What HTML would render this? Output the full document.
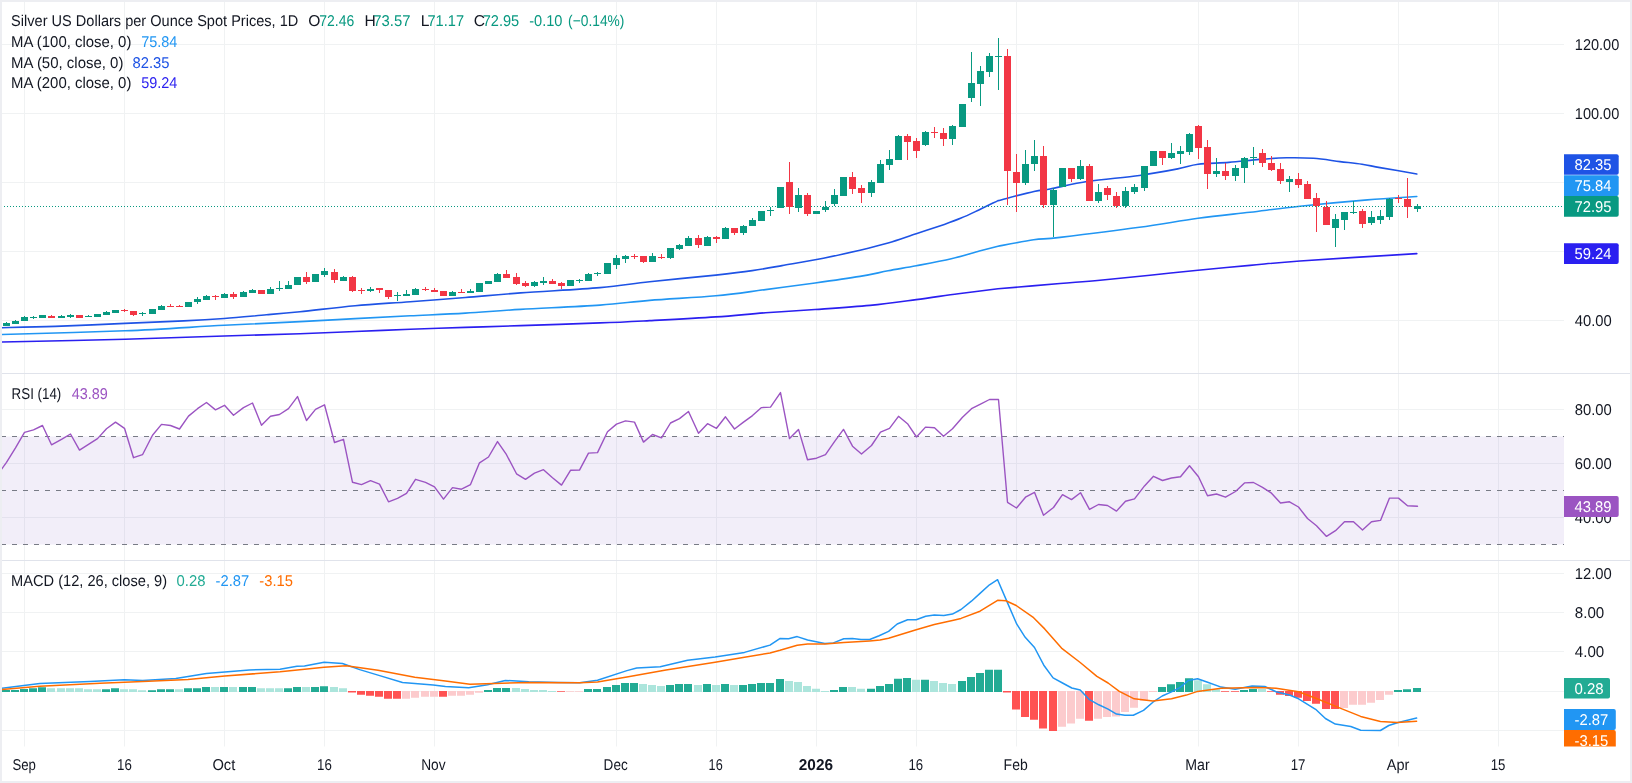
<!DOCTYPE html><html><head><meta charset="utf-8"><style>html,body{margin:0;padding:0;background:#fff;}svg{display:block;will-change:transform}text{font-family:"Liberation Sans",sans-serif;text-rendering:geometricPrecision}</style></head><body>
<svg width="1632" height="783" viewBox="0 0 1632 783">
<defs>
<clipPath id="cp"><rect x="2" y="2" width="1562" height="371.5"/></clipPath>
<clipPath id="cr"><rect x="2" y="374" width="1562" height="186"/></clipPath>
<clipPath id="cm"><rect x="2" y="561" width="1562" height="185.5"/></clipPath>
<clipPath id="cml"><rect x="1560" y="561" width="70" height="185.5"/></clipPath>
</defs>
<rect x="0" y="0" width="1632" height="783" fill="#edeef2"/>
<rect x="2" y="2" width="1628" height="779" fill="#ffffff"/>
<path d="M24.5 2V746.5 M124.5 2V746.5 M224.5 2V746.5 M324.5 2V746.5 M434.5 2V746.5 M616.5 2V746.5 M716.5 2V746.5 M816.5 2V746.5 M916.5 2V746.5 M1016.5 2V746.5 M1198.5 2V746.5 M1298.5 2V746.5 M1398.5 2V746.5 M1498.5 2V746.5 M2 44.5H1564 M2 113.5H1564 M2 182.5H1564 M2 251.5H1564 M2 320.5H1564 M2 409.5H1564 M2 463.5H1564 M2 517.5H1564 M2 573.5H1564 M2 612.5H1564 M2 651.5H1564 M2 691.5H1564 M2 730.5H1564" stroke="#f0f2f3" stroke-width="1" fill="none"/>
<path d="M2 373.5H1630M2 560.5H1630" stroke="#e0e3eb" stroke-width="1"/>
<g clip-path="url(#cp)">
<path d="M1.8 342.0 C22.3 341.6 87.9 340.3 125.0 339.3 C162.1 338.3 195.1 336.9 224.3 336.0 C253.5 335.1 278.2 334.4 300.0 333.7 C321.8 332.9 336.7 332.2 355.1 331.5 C373.5 330.8 391.9 330.0 410.3 329.3 C428.7 328.6 447.0 328.0 465.4 327.4 C483.8 326.8 498.2 326.4 520.6 325.6 C543.0 324.9 578.5 323.7 600.0 322.9 C621.5 322.1 630.3 321.6 649.6 320.6 C668.9 319.6 696.5 318.2 715.8 316.9 C735.1 315.6 749.0 314.0 765.5 312.8 C782.0 311.6 797.7 310.7 815.1 309.5 C832.5 308.3 853.1 307.0 870.0 305.4 C886.9 303.8 901.5 301.6 916.2 299.6 C930.9 297.7 944.7 295.5 958.3 293.7 C971.9 291.9 991.4 289.6 998.0 288.8 C1008.3 287.9 1043.0 284.9 1060.0 283.5 C1077.0 282.1 1085.0 281.6 1100.0 280.2 C1115.0 278.8 1133.7 276.9 1150.0 275.2 C1166.3 273.5 1181.3 271.8 1198.0 270.2 C1214.7 268.6 1233.0 266.9 1250.0 265.4 C1267.0 263.9 1272.2 263.0 1300.0 261.0 C1327.8 259.0 1397.3 254.8 1416.8 253.6" stroke="#2a1ff0" stroke-width="1.6" fill="none" stroke-linecap="round" stroke-linejoin="round"/>
<path d="M1.8 334.5 C22.3 333.9 87.9 332.3 125.0 330.8 C162.1 329.3 195.1 326.8 224.3 325.3 C253.5 323.8 278.2 322.7 300.0 321.6 C321.8 320.5 336.7 319.6 355.1 318.6 C373.5 317.6 391.9 316.7 410.3 315.8 C428.7 314.9 447.0 314.2 465.4 313.1 C483.8 312.0 498.2 310.7 520.6 309.4 C543.0 308.1 578.5 306.6 600.0 305.1 C621.5 303.6 630.3 301.9 649.6 300.4 C668.9 298.8 696.5 297.6 715.8 295.8 C735.1 294.0 749.0 291.7 765.5 289.6 C782.0 287.5 799.4 285.2 815.1 283.0 C830.9 280.8 847.8 278.4 860.0 276.4 C872.2 274.4 878.7 272.6 888.1 270.8 C897.5 269.0 905.7 267.8 916.2 265.8 C926.7 263.8 940.8 261.2 951.3 258.8 C961.8 256.4 971.6 253.2 979.4 251.1 C987.2 249.0 994.9 247.0 998.0 246.2 C1003.9 245.1 1023.3 241.3 1033.6 239.8 C1043.9 238.3 1042.4 239.5 1060.0 237.4 C1077.6 235.3 1116.4 230.5 1139.4 227.3 C1162.4 224.1 1179.7 220.8 1198.1 218.3 C1216.5 215.8 1233.0 214.2 1250.0 212.2 C1267.0 210.2 1280.4 208.4 1300.0 206.3 C1319.6 204.2 1348.0 201.5 1367.5 199.9 C1387.0 198.3 1408.6 197.1 1416.8 196.5" stroke="#2196F3" stroke-width="1.6" fill="none" stroke-linecap="round" stroke-linejoin="round"/>
<path d="M1.8 327.7 C10.7 327.5 34.6 327.1 55.1 326.4 C75.6 325.7 103.5 324.3 125.0 323.4 C146.4 322.5 167.2 321.7 183.8 320.9 C200.4 320.1 210.5 319.5 224.3 318.5 C238.1 317.5 253.9 315.9 266.5 314.8 C279.1 313.7 285.2 313.2 300.0 311.7 C314.8 310.2 336.7 307.4 355.1 305.7 C373.5 304.0 391.9 303.1 410.3 301.7 C428.7 300.3 447.0 299.0 465.4 297.5 C483.8 296.0 498.2 294.5 520.6 292.9 C543.0 291.2 578.5 289.5 600.0 287.6 C621.5 285.7 630.3 283.8 649.6 281.7 C668.9 279.6 698.7 277.0 715.8 275.1 C732.9 273.2 741.2 272.2 752.2 270.6 C763.2 269.0 770.1 267.7 782.0 265.6 C793.9 263.5 810.4 260.8 823.4 258.2 C836.4 255.6 849.2 252.7 860.0 250.2 C870.8 247.7 878.7 245.8 888.1 243.1 C897.5 240.4 906.8 236.9 916.2 233.8 C925.6 230.7 936.8 227.0 944.3 224.4 C951.8 221.8 955.2 220.6 961.1 218.1 C967.0 215.6 973.2 212.6 979.4 209.7 C985.5 206.8 994.9 202.1 998.0 200.6 C1004.0 199.1 1025.3 193.4 1034.0 191.5 C1042.7 189.6 1041.0 190.7 1050.0 189.0 C1059.0 187.3 1073.4 183.6 1088.3 181.3 C1103.2 179.1 1124.5 177.6 1139.4 175.5 C1154.3 173.4 1167.9 170.8 1177.7 168.9 C1187.5 167.0 1189.6 165.4 1198.1 164.3 C1206.6 163.2 1218.5 163.2 1228.8 162.4 C1239.0 161.6 1250.0 160.2 1259.6 159.4 C1269.2 158.6 1277.6 158.0 1286.6 157.8 C1295.6 157.6 1304.6 157.7 1313.5 158.3 C1322.4 158.9 1331.9 160.6 1340.0 161.6 C1348.1 162.6 1355.3 163.3 1362.0 164.3 C1368.7 165.3 1370.9 166.0 1380.0 167.6 C1389.1 169.2 1410.7 172.9 1416.8 174.0" stroke="#1e53e5" stroke-width="1.6" fill="none" stroke-linecap="round" stroke-linejoin="round"/>
<path d="M2 206.5H1564" stroke="#089981" stroke-width="1" stroke-dasharray="1 2" stroke-dashoffset="1"/>
<path d="M6.5 322V326 M15.5 320V324 M24.5 316V321 M33.5 316V319 M42.5 315V318 M61.5 315V318 M70.5 314V318 M88.5 315V317 M97.5 314V317 M106.5 311V315 M115.5 310V313 M142.5 312V316 M152.5 309V314 M161.5 305V310 M188.5 302V307 M197.5 297V304 M206.5 295V300 M224.5 293V298 M243.5 291V297 M252.5 289V293 M270.5 287V294 M279.5 281V291 M288.5 281V289 M297.5 277V285 M315.5 274V282 M324.5 268V277 M343.5 276V281 M370.5 287V292 M397.5 292V301 M406.5 290V296 M415.5 288V295 M452.5 291V296 M470.5 289V293 M479.5 283V292 M488.5 281V284 M497.5 273V282 M534.5 281V287 M543.5 277V285 M570.5 280V286 M579.5 279V283 M588.5 273V281 M597.5 272V276 M607.5 263V274 M616.5 255V269 M625.5 255V263 M652.5 253V262 M670.5 248V259 M679.5 244V250 M688.5 236V246 M707.5 236V246 M725.5 227V239 M743.5 225V235 M752.5 218V226 M761.5 211V221 M770.5 207V216 M780.5 187V208 M798.5 188V212 M816.5 211V214 M825.5 201V212 M834.5 189V206 M843.5 177V196 M871.5 180V197 M880.5 160V183 M889.5 150V170 M898.5 135V160 M925.5 131V146 M952.5 125V145 M962.5 104V127 M971.5 52V102 M980.5 66V106 M989.5 53V77 M998.5 38V90 M1025.5 150V185 M1034.5 140V171 M1053.5 188V237 M1062.5 168V187 M1080.5 160V180 M1098.5 184V203 M1125.5 187V208 M1134.5 184V194 M1144.5 166V191 M1153.5 151V166 M1171.5 143V159 M1180.5 146V164 M1189.5 133V155 M1216.5 158V177 M1235.5 165V181 M1244.5 157V183 M1253.5 147V165 M1289.5 176V192 M1335.5 214V247 M1344.5 212V230 M1353.5 201V214 M1371.5 211V225 M1380.5 210V224 M1389.5 198V220 M1417.5 204V212" stroke="#089981" stroke-width="1"/>
<path d="M51.5 315V318 M79.5 315V318 M124.5 309V312 M133.5 311V316 M170.5 304V307 M179.5 305V307 M215.5 295V300 M233.5 292V299 M261.5 290V294 M306.5 272V284 M334.5 269V283 M352.5 276V292 M361.5 288V294 M379.5 288V293 M388.5 290V299 M425.5 287V291 M434.5 288V292 M443.5 291V296 M461.5 289V293 M506.5 270V278 M516.5 273V285 M525.5 281V287 M552.5 279V284 M561.5 282V289 M634.5 254V259 M643.5 256V263 M661.5 254V259 M698.5 235V248 M716.5 236V243 M734.5 228V235 M789.5 162V214 M807.5 193V216 M852.5 172V194 M861.5 185V203 M907.5 134V160 M916.5 138V158 M934.5 127V138 M943.5 128V146 M1007.5 49V205 M1016.5 154V212 M1043.5 146V208 M1071.5 168V182 M1089.5 164V201 M1107.5 186V200 M1116.5 192V208 M1162.5 151V165 M1198.5 125V159 M1207.5 140V189 M1225.5 163V180 M1262.5 149V167 M1271.5 156V171 M1280.5 163V184 M1298.5 173V188 M1307.5 181V199 M1316.5 193V232 M1326.5 201V225 M1362.5 209V228 M1398.5 195V203 M1407.5 178V218" stroke="#F23645" stroke-width="1"/>
<path d="M3.0 323h7V326h-7Z M12.0 321h7V324h-7Z M21.0 317h7V321h-7Z M30.0 317h7V318h-7Z M39.0 315h7V318h-7Z M58.0 316h7V318h-7Z M67.0 315h7V317h-7Z M85.0 316h7V317h-7Z M94.0 314h7V317h-7Z M103.0 312h7V315h-7Z M112.0 310h7V313h-7Z M139.0 313h7V314h-7Z M149.0 309h7V314h-7Z M158.0 306h7V310h-7Z M185.0 302h7V307h-7Z M194.0 299h7V302h-7Z M203.0 296h7V300h-7Z M221.0 294h7V298h-7Z M240.0 292h7V297h-7Z M249.0 290h7V293h-7Z M267.0 289h7V294h-7Z M276.0 288h7V289h-7Z M285.0 285h7V289h-7Z M294.0 277h7V285h-7Z M312.0 274h7V282h-7Z M321.0 271h7V275h-7Z M340.0 277h7V281h-7Z M367.0 289h7V291h-7Z M394.0 295h7V296h-7Z M403.0 294h7V296h-7Z M412.0 289h7V295h-7Z M449.0 292h7V296h-7Z M467.0 291h7V293h-7Z M476.0 283h7V292h-7Z M485.0 281h7V284h-7Z M494.0 274h7V282h-7Z M531.0 282h7V286h-7Z M540.0 281h7V283h-7Z M567.0 280h7V286h-7Z M576.0 280h7V281h-7Z M585.0 274h7V281h-7Z M594.0 273h7V274h-7Z M604.0 263h7V274h-7Z M613.0 258h7V265h-7Z M622.0 256h7V259h-7Z M649.0 256h7V262h-7Z M667.0 248h7V258h-7Z M676.0 245h7V249h-7Z M685.0 238h7V246h-7Z M704.0 237h7V246h-7Z M722.0 228h7V239h-7Z M740.0 226h7V233h-7Z M749.0 220h7V226h-7Z M758.0 211h7V221h-7Z M767.0 210h7V211h-7Z M777.0 187h7V208h-7Z M795.0 195h7V208h-7Z M813.0 211h7V214h-7Z M822.0 207h7V210h-7Z M831.0 195h7V204h-7Z M840.0 177h7V196h-7Z M868.0 182h7V193h-7Z M877.0 164h7V183h-7Z M886.0 159h7V165h-7Z M895.0 136h7V160h-7Z M922.0 132h7V145h-7Z M949.0 126h7V139h-7Z M959.0 104h7V127h-7Z M968.0 83h7V98h-7Z M977.0 71h7V84h-7Z M986.0 56h7V72h-7Z M995.0 56h7V57h-7Z M1022.0 164h7V183h-7Z M1031.0 156h7V164h-7Z M1050.0 190h7V205h-7Z M1059.0 168h7V187h-7Z M1077.0 166h7V179h-7Z M1095.0 192h7V201h-7Z M1122.0 191h7V206h-7Z M1131.0 187h7V192h-7Z M1141.0 166h7V188h-7Z M1150.0 151h7V166h-7Z M1168.0 153h7V158h-7Z M1177.0 151h7V154h-7Z M1186.0 134h7V152h-7Z M1213.0 171h7V174h-7Z M1232.0 168h7V176h-7Z M1241.0 158h7V168h-7Z M1250.0 157h7V158h-7Z M1286.0 179h7V182h-7Z M1332.0 219h7V228h-7Z M1341.0 212h7V220h-7Z M1350.0 212h7V213h-7Z M1368.0 217h7V223h-7Z M1377.0 216h7V220h-7Z M1386.0 199h7V217h-7Z M1414.0 206h7V209h-7Z" fill="#089981"/>
<path d="M48.0 316h7V318h-7Z M76.0 315h7V318h-7Z M121.0 310h7V311h-7Z M130.0 311h7V315h-7Z M167.0 306h7V307h-7Z M176.0 306h7V307h-7Z M212.0 296h7V297h-7Z M230.0 294h7V297h-7Z M258.0 290h7V294h-7Z M303.0 277h7V282h-7Z M331.0 272h7V280h-7Z M349.0 277h7V291h-7Z M358.0 290h7V291h-7Z M376.0 288h7V290h-7Z M385.0 290h7V297h-7Z M422.0 289h7V290h-7Z M431.0 290h7V292h-7Z M440.0 291h7V296h-7Z M458.0 292h7V293h-7Z M503.0 274h7V278h-7Z M513.0 277h7V284h-7Z M522.0 283h7V286h-7Z M549.0 281h7V284h-7Z M558.0 283h7V286h-7Z M631.0 256h7V257h-7Z M640.0 256h7V262h-7Z M658.0 257h7V258h-7Z M695.0 238h7V245h-7Z M713.0 237h7V239h-7Z M731.0 228h7V233h-7Z M786.0 182h7V207h-7Z M804.0 195h7V214h-7Z M849.0 177h7V189h-7Z M858.0 188h7V193h-7Z M904.0 136h7V142h-7Z M913.0 141h7V151h-7Z M931.0 132h7V133h-7Z M940.0 133h7V139h-7Z M1004.0 56h7V171h-7Z M1013.0 172h7V183h-7Z M1040.0 156h7V205h-7Z M1068.0 168h7V179h-7Z M1086.0 166h7V201h-7Z M1104.0 188h7V195h-7Z M1113.0 196h7V206h-7Z M1159.0 151h7V158h-7Z M1195.0 126h7V148h-7Z M1204.0 147h7V174h-7Z M1222.0 171h7V176h-7Z M1259.0 153h7V163h-7Z M1268.0 163h7V170h-7Z M1277.0 169h7V181h-7Z M1295.0 179h7V185h-7Z M1304.0 184h7V199h-7Z M1313.0 198h7V206h-7Z M1323.0 207h7V225h-7Z M1359.0 211h7V224h-7Z M1395.0 198h7V199h-7Z M1404.0 199h7V207h-7Z" fill="#F23645"/>
</g>
<g clip-path="url(#cr)">
<rect x="2" y="436.5" width="1562" height="108" fill="rgba(126,87,194,0.1)"/>
<path d="M2 436.5H1564M2 490.5H1564M2 544.5H1564" stroke="#787b86" stroke-width="1" stroke-dasharray="5 6" stroke-dashoffset="1"/>
<path d="M-2.5 475.0 L6.5 462.3 L15.5 447.8 L24.5 432.4 L33.5 429.9 L42.5 425.5 L51.5 444.8 L61.5 439.3 L70.5 434.0 L79.5 450.1 L88.5 444.4 L97.5 438.6 L106.5 428.7 L115.5 422.1 L124.5 428.3 L133.5 457.7 L142.5 454.7 L152.5 435.2 L161.5 424.4 L170.5 425.5 L179.5 429.0 L188.5 416.1 L197.5 408.7 L206.5 402.5 L215.5 409.9 L224.5 405.3 L233.5 415.2 L243.5 407.6 L252.5 403.0 L261.5 425.3 L270.5 416.3 L279.5 414.5 L288.5 408.7 L297.5 396.6 L306.5 420.5 L315.5 409.4 L324.5 404.8 L334.5 442.5 L343.5 439.3 L352.5 482.3 L361.5 484.6 L370.5 480.7 L379.5 484.1 L388.5 501.8 L397.5 498.4 L406.5 493.3 L415.5 479.3 L425.5 482.3 L434.5 486.9 L443.5 499.1 L452.5 487.6 L461.5 489.2 L470.5 484.6 L479.5 462.8 L488.5 457.0 L497.5 441.6 L506.5 454.7 L516.5 473.8 L525.5 479.3 L534.5 473.1 L543.5 469.7 L552.5 477.7 L561.5 485.1 L570.5 470.3 L579.5 470.1 L588.5 453.1 L597.5 452.6 L607.5 431.7 L616.5 424.1 L625.5 420.9 L634.5 422.1 L643.5 442.1 L652.5 434.5 L661.5 437.9 L670.5 423.0 L679.5 418.6 L688.5 411.5 L698.5 433.3 L707.5 423.7 L716.5 428.3 L725.5 416.8 L734.5 429.0 L743.5 422.1 L752.5 415.6 L761.5 407.6 L770.5 407.1 L780.5 392.6 L789.5 438.6 L798.5 429.4 L807.5 459.8 L816.5 458.2 L825.5 454.7 L834.5 441.6 L843.5 429.4 L852.5 446.2 L861.5 454.0 L871.5 445.5 L880.5 432.2 L889.5 428.3 L898.5 416.3 L907.5 423.7 L916.5 437.0 L925.5 427.1 L934.5 427.8 L943.5 436.3 L952.5 428.7 L962.5 417.2 L971.5 408.7 L980.5 404.1 L989.5 399.5 L998.5 399.5 L1007.5 502.3 L1016.5 508.0 L1025.5 497.2 L1034.5 492.3 L1043.5 515.3 L1053.5 507.5 L1062.5 494.7 L1071.5 499.6 L1080.5 492.7 L1089.5 509.4 L1098.5 504.5 L1107.5 505.5 L1116.5 511.1 L1125.5 501.3 L1134.5 498.9 L1144.5 485.9 L1153.5 476.3 L1162.5 480.5 L1171.5 478.0 L1180.5 476.8 L1189.5 465.8 L1198.5 476.8 L1207.5 495.7 L1216.5 494.0 L1225.5 497.2 L1235.5 491.5 L1244.5 482.9 L1253.5 482.5 L1262.5 487.4 L1271.5 493.2 L1280.5 503.0 L1289.5 501.8 L1298.5 507.0 L1307.5 518.5 L1316.5 525.8 L1326.5 536.4 L1335.5 530.7 L1344.5 521.7 L1353.5 521.7 L1362.5 530.0 L1371.5 521.7 L1380.5 520.4 L1389.5 498.1 L1398.5 498.1 L1407.5 505.7 L1417.5 506.2" stroke="#9b54c2" stroke-width="1.4" fill="none" stroke-linejoin="round" stroke-linecap="round" />
</g>
<g clip-path="url(#cm)">
<path d="M2.0 689.9h8V692h-8Z M11.0 689.9h8V692h-8Z M20.0 689.1h8V692h-8Z M29.0 688.3h8V692h-8Z M38.0 687.3h8V692h-8Z M102.0 689.2h8V692h-8Z M111.0 688.2h8V692h-8Z M148.0 690.2h8V692h-8Z M157.0 689.2h8V692h-8Z M166.0 689.2h8V692h-8Z M184.0 688.2h8V692h-8Z M193.0 688.2h8V692h-8Z M202.0 687.1h8V692h-8Z M220.0 687.1h8V692h-8Z M239.0 687.1h8V692h-8Z M248.0 687.1h8V692h-8Z M284.0 688.2h8V692h-8Z M293.0 687.1h8V692h-8Z M311.0 687.1h8V692h-8Z M320.0 686.2h8V692h-8Z M484.0 690.0h8V692h-8Z M493.0 688.0h8V692h-8Z M502.0 688.0h8V692h-8Z M584.0 689.0h8V692h-8Z M593.0 689.0h8V692h-8Z M603.0 687.1h8V692h-8Z M612.0 685.1h8V692h-8Z M621.0 683.1h8V692h-8Z M630.0 683.1h8V692h-8Z M666.0 685.1h8V692h-8Z M675.0 684.1h8V692h-8Z M684.0 684.1h8V692h-8Z M703.0 684.1h8V692h-8Z M721.0 684.1h8V692h-8Z M739.0 685.1h8V692h-8Z M748.0 684.1h8V692h-8Z M757.0 683.1h8V692h-8Z M766.0 683.1h8V692h-8Z M776.0 679.0h8V692h-8Z M830.0 690.0h8V692h-8Z M839.0 687.1h8V692h-8Z M867.0 688.8h8V692h-8Z M876.0 686.0h8V692h-8Z M885.0 684.0h8V692h-8Z M894.0 678.8h8V692h-8Z M903.0 677.9h8V692h-8Z M921.0 679.8h8V692h-8Z M958.0 681.0h8V692h-8Z M967.0 677.1h8V692h-8Z M976.0 673.1h8V692h-8Z M985.0 669.8h8V692h-8Z M994.0 669.8h8V692h-8Z M1158.0 687.1h8V692h-8Z M1167.0 684.3h8V692h-8Z M1176.0 682.0h8V692h-8Z M1185.0 678.3h8V692h-8Z M1240.0 689.9h8V692h-8Z M1249.0 688.9h8V692h-8Z M1394.0 689.9h8V692h-8Z M1403.0 689.2h8V692h-8Z M1413.0 687.9h8V692h-8Z" fill="#22ab94"/>
<path d="M47.0 688.2h8V692h-8Z M57.0 688.2h8V692h-8Z M66.0 688.2h8V692h-8Z M75.0 688.2h8V692h-8Z M84.0 689.3h8V692h-8Z M93.0 689.2h8V692h-8Z M120.0 689.2h8V692h-8Z M129.0 689.2h8V692h-8Z M138.0 690.2h8V692h-8Z M175.0 689.2h8V692h-8Z M211.0 687.1h8V692h-8Z M229.0 687.1h8V692h-8Z M257.0 688.2h8V692h-8Z M266.0 688.2h8V692h-8Z M275.0 688.2h8V692h-8Z M302.0 687.1h8V692h-8Z M330.0 687.1h8V692h-8Z M339.0 688.2h8V692h-8Z M512.0 688.0h8V692h-8Z M521.0 689.0h8V692h-8Z M530.0 690.0h8V692h-8Z M539.0 690.0h8V692h-8Z M548.0 691.0h8V692h-8Z M639.0 684.1h8V692h-8Z M648.0 685.1h8V692h-8Z M657.0 686.1h8V692h-8Z M694.0 685.1h8V692h-8Z M712.0 685.1h8V692h-8Z M730.0 685.1h8V692h-8Z M785.0 681.1h8V692h-8Z M794.0 681.9h8V692h-8Z M803.0 686.0h8V692h-8Z M812.0 688.8h8V692h-8Z M821.0 690.9h8V692h-8Z M848.0 687.1h8V692h-8Z M857.0 688.8h8V692h-8Z M912.0 679.8h8V692h-8Z M930.0 681.0h8V692h-8Z M939.0 683.1h8V692h-8Z M948.0 684.0h8V692h-8Z M1194.0 680.3h8V692h-8Z M1203.0 684.2h8V692h-8Z M1212.0 689.2h8V692h-8Z M1258.0 688.9h8V692h-8Z" fill="#ace5dc"/>
<path d="M348.0 691h8V692.6h-8Z M357.0 691h8V694.7h-8Z M366.0 691h8V695.7h-8Z M375.0 691h8V696.8h-8Z M384.0 691h8V698.7h-8Z M393.0 691h8V698.7h-8Z M439.0 691h8V696.8h-8Z M557.0 691h8V691.8h-8Z M1003.0 691h8V692.6h-8Z M1012.0 691h8V709.6h-8Z M1021.0 691h8V716.9h-8Z M1030.0 691h8V719.7h-8Z M1039.0 691h8V728.6h-8Z M1049.0 691h8V730.9h-8Z M1085.0 691h8V720.8h-8Z M1221.0 691h8V691.8h-8Z M1231.0 691h8V691.8h-8Z M1267.0 691h8V691.8h-8Z M1276.0 691h8V694.8h-8Z M1285.0 691h8V695.9h-8Z M1294.0 691h8V697.8h-8Z M1303.0 691h8V700.9h-8Z M1312.0 691h8V703.7h-8Z M1322.0 691h8V708.9h-8Z M1331.0 691h8V708.9h-8Z" fill="#ff5252"/>
<path d="M402.0 691h8V698.7h-8Z M411.0 691h8V697.8h-8Z M421.0 691h8V696.8h-8Z M430.0 691h8V696.8h-8Z M448.0 691h8V695.7h-8Z M457.0 691h8V695.7h-8Z M466.0 691h8V694.7h-8Z M475.0 691h8V692.8h-8Z M566.0 691h8V691.8h-8Z M575.0 691h8V691.8h-8Z M1058.0 691h8V726.8h-8Z M1067.0 691h8V723.6h-8Z M1076.0 691h8V718.8h-8Z M1094.0 691h8V718.8h-8Z M1103.0 691h8V716.9h-8Z M1112.0 691h8V716.5h-8Z M1121.0 691h8V711.9h-8Z M1130.0 691h8V707.8h-8Z M1140.0 691h8V700.7h-8Z M1149.0 691h8V692.0h-8Z M1340.0 691h8V707.9h-8Z M1349.0 691h8V704.8h-8Z M1358.0 691h8V704.8h-8Z M1367.0 691h8V702.7h-8Z M1376.0 691h8V699.9h-8Z M1385.0 691h8V694.8h-8Z" fill="#fccbcd"/>
<path d="M1.8 688.3 L39.8 683.6 L90.0 681.6 L124.3 679.7 L142.7 680.6 L175.8 678.4 L206.4 673.5 L249.3 669.9 L280.0 669.2 L297.0 666.3 L304.5 665.9 L324.1 662.3 L342.5 663.5 L359.7 669.6 L378.0 675.1 L402.5 682.5 L433.2 684.9 L445.4 686.5 L468.7 687.7 L487.6 684.7 L505.3 680.4 L528.8 681.8 L558.2 682.4 L579.8 682.7 L597.5 680.2 L626.9 670.6 L636.7 668.0 L660.2 666.7 L687.6 660.2 L715.1 656.9 L744.5 652.4 L770.0 645.1 L779.8 638.6 L788.6 638.8 L797.2 636.6 L807.6 640.0 L824.8 643.4 L833.4 642.9 L843.8 638.8 L852.4 638.6 L861.0 639.5 L869.7 639.5 L879.1 635.7 L888.6 631.4 L897.2 624.0 L907.6 619.8 L916.2 619.8 L925.7 616.2 L934.3 615.0 L943.8 615.5 L952.4 614.1 L961.0 609.5 L971.4 601.2 L980.0 593.4 L989.5 584.8 L997.6 579.7 L1007.1 601.9 L1016.8 624.2 L1025.2 637.3 L1034.5 647.5 L1043.8 665.2 L1053.1 677.9 L1062.5 683.0 L1071.8 688.0 L1080.2 689.9 L1089.5 699.7 L1098.8 704.8 L1108.1 709.1 L1116.5 714.1 L1124.9 715.2 L1133.3 715.2 L1143.5 710.4 L1152.9 702.2 L1162.2 696.0 L1171.5 691.9 L1179.9 687.6 L1188.3 680.5 L1197.6 678.7 L1206.9 682.0 L1221.1 687.1 L1235.2 689.2 L1252.1 686.1 L1264.8 686.5 L1276.1 691.7 L1290.2 695.2 L1298.6 698.8 L1315.6 709.3 L1325.4 718.5 L1335.3 724.1 L1350.8 726.5 L1360.7 730.2 L1380.4 730.5 L1388.8 725.5 L1397.3 722.7 L1416.6 718.1" stroke="#2196F3" stroke-width="1.5" fill="none" stroke-linejoin="round" stroke-linecap="round" />
<path d="M1.8 689.4 L39.8 686.3 L90.0 683.7 L100.0 683.3 L142.7 681.6 L188.0 679.4 L224.8 676.0 L280.0 671.8 L290.0 670.8 L324.1 667.2 L346.2 665.7 L378.0 670.2 L414.8 677.2 L445.4 680.9 L470.0 684.3 L528.8 682.4 L579.8 682.7 L597.5 682.0 L626.9 676.9 L666.0 670.0 L715.1 662.2 L744.5 657.3 L770.0 652.9 L780.0 650.3 L797.2 645.2 L807.6 644.0 L824.8 644.0 L843.8 642.6 L869.7 640.9 L880.0 640.0 L888.6 638.3 L916.2 629.7 L934.3 624.5 L952.4 620.5 L961.0 618.4 L980.0 611.2 L997.6 600.3 L1005.9 600.7 L1016.2 605.5 L1033.6 617.7 L1044.7 628.9 L1061.5 648.1 L1080.2 662.5 L1096.9 676.4 L1108.1 683.0 L1119.3 691.4 L1134.2 698.8 L1152.9 701.0 L1171.5 698.8 L1186.4 695.1 L1197.6 691.4 L1221.1 688.2 L1256.4 687.5 L1276.1 688.2 L1298.6 691.7 L1317.0 698.8 L1339.5 707.9 L1360.7 716.4 L1380.4 721.6 L1397.3 722.4 L1416.6 721.3" stroke="#FF6D00" stroke-width="1.5" fill="none" stroke-linejoin="round" stroke-linecap="round" />
</g>
<text x="1574.8" y="49.8" fill="#131722" font-size="15.6" textLength="44.5" lengthAdjust="spacingAndGlyphs" text-anchor="start">120.00</text>
<text x="1574.8" y="118.7" fill="#131722" font-size="15.6" textLength="44.5" lengthAdjust="spacingAndGlyphs" text-anchor="start">100.00</text>
<text x="1574.8" y="325.5" fill="#131722" font-size="15.6" textLength="37.0" lengthAdjust="spacingAndGlyphs" text-anchor="start">40.00</text>
<text x="1574.8" y="414.9" fill="#131722" font-size="15.6" textLength="37.0" lengthAdjust="spacingAndGlyphs" text-anchor="start">80.00</text>
<text x="1574.8" y="469.0" fill="#131722" font-size="15.6" textLength="37.0" lengthAdjust="spacingAndGlyphs" text-anchor="start">60.00</text>
<text x="1574.8" y="523.0" fill="#131722" font-size="15.6" textLength="37.0" lengthAdjust="spacingAndGlyphs" text-anchor="start">40.00</text>
<text x="1574.8" y="578.9" fill="#131722" font-size="15.6" textLength="37.0" lengthAdjust="spacingAndGlyphs" text-anchor="start">12.00</text>
<text x="1574.8" y="618.1" fill="#131722" font-size="15.6" textLength="29.4" lengthAdjust="spacingAndGlyphs" text-anchor="start">8.00</text>
<text x="1574.8" y="657.3" fill="#131722" font-size="15.6" textLength="29.4" lengthAdjust="spacingAndGlyphs" text-anchor="start">4.00</text>
<path d="M1564 154.3H1616.7Q1618.7 154.3 1618.7 156.3V172.8Q1618.7 174.8 1616.7 174.8H1564Z" fill="#1e53e5"/><text x="1574.5" y="169.9" fill="#ffffff" font-size="15.6" textLength="37.0" lengthAdjust="spacingAndGlyphs" text-anchor="start">82.35</text>
<path d="M1564 175.3H1616.7Q1618.7 175.3 1618.7 177.3V194Q1618.7 196 1616.7 196H1564Z" fill="#2196F3"/><text x="1574.5" y="191.0" fill="#ffffff" font-size="15.6" textLength="37.0" lengthAdjust="spacingAndGlyphs" text-anchor="start">75.84</text>
<path d="M1564 196H1616.7Q1618.7 196 1618.7 198V214.8Q1618.7 216.8 1616.7 216.8H1564Z" fill="#089981"/><text x="1574.5" y="211.7" fill="#ffffff" font-size="15.6" textLength="37.0" lengthAdjust="spacingAndGlyphs" text-anchor="start">72.95</text>
<path d="M1564 243.3H1616.7Q1618.7 243.3 1618.7 245.3V262Q1618.7 264 1616.7 264H1564Z" fill="#2a1ff0"/><text x="1574.5" y="258.9" fill="#ffffff" font-size="15.6" textLength="37.0" lengthAdjust="spacingAndGlyphs" text-anchor="start">59.24</text>
<path d="M1564 496H1616.7Q1618.7 496 1618.7 498V515Q1618.7 517 1616.7 517H1564Z" fill="#9b54c2"/><text x="1574.5" y="511.8" fill="#ffffff" font-size="15.6" textLength="37.0" lengthAdjust="spacingAndGlyphs" text-anchor="start">43.89</text>
<path d="M1564 678.1H1608Q1610 678.1 1610 680.1V696.6Q1610 698.6 1608 698.6H1564Z" fill="#22ab94"/><text x="1574.5" y="693.6" fill="#ffffff" font-size="15.6" textLength="29.2" lengthAdjust="spacingAndGlyphs" text-anchor="start">0.28</text>
<g clip-path="url(#cml)"><path d="M1564 709.1H1613.8Q1615.8 709.1 1615.8 711.1V728Q1615.8 730 1613.8 730H1564Z" fill="#2196F3"/><text x="1574.5" y="724.8" fill="#ffffff" font-size="15.6" textLength="33.8" lengthAdjust="spacingAndGlyphs" text-anchor="start">-2.87</text></g>
<g clip-path="url(#cml)"><path d="M1564 730H1613.8Q1615.8 730 1615.8 732V748.6Q1615.8 750.6 1613.8 750.6H1564Z" fill="#FF6D00"/><text x="1574.5" y="745.6" fill="#ffffff" font-size="15.6" textLength="33.8" lengthAdjust="spacingAndGlyphs" text-anchor="start">-3.15</text></g>
<text x="11.1" y="26" fill="#131722" font-size="15.6" textLength="287.2" lengthAdjust="spacingAndGlyphs" text-anchor="start">Silver US Dollars per Ounce Spot Prices, 1D</text>
<text x="308.3" y="26" fill="#131722" font-size="15.6" text-anchor="start">O</text>
<text x="319.2" y="26" fill="#089981" font-size="15.6" textLength="35.0" lengthAdjust="spacingAndGlyphs" text-anchor="start">72.46</text>
<text x="364.6" y="26" fill="#131722" font-size="15.6" text-anchor="start">H</text>
<text x="373.3" y="26" fill="#089981" font-size="15.6" textLength="37.1" lengthAdjust="spacingAndGlyphs" text-anchor="start">73.57</text>
<text x="420.8" y="26" fill="#131722" font-size="15.6" text-anchor="start">L</text>
<text x="427.5" y="26" fill="#089981" font-size="15.6" textLength="36.5" lengthAdjust="spacingAndGlyphs" text-anchor="start">71.17</text>
<text x="473.8" y="26" fill="#131722" font-size="15.6" text-anchor="start">C</text>
<text x="482.7" y="26" fill="#089981" font-size="15.6" textLength="36.5" lengthAdjust="spacingAndGlyphs" text-anchor="start">72.95</text>
<text x="529.2" y="26" fill="#089981" font-size="15.6" textLength="33.3" lengthAdjust="spacingAndGlyphs" text-anchor="start">-0.10</text>
<text x="568.1" y="26" fill="#089981" font-size="15.6" textLength="56.3" lengthAdjust="spacingAndGlyphs" text-anchor="start">(−0.14%)</text>
<text x="11.1" y="46.7" fill="#131722" font-size="15.6" textLength="120.3" lengthAdjust="spacingAndGlyphs" text-anchor="start">MA (100, close, 0)</text>
<text x="141.2" y="46.7" fill="#2196F3" font-size="15.6" textLength="36.2" lengthAdjust="spacingAndGlyphs" text-anchor="start">75.84</text>
<text x="11.1" y="67.5" fill="#131722" font-size="15.6" textLength="112.3" lengthAdjust="spacingAndGlyphs" text-anchor="start">MA (50, close, 0)</text>
<text x="132.5" y="67.5" fill="#1e53e5" font-size="15.6" textLength="37" lengthAdjust="spacingAndGlyphs" text-anchor="start">82.35</text>
<text x="11.1" y="88.3" fill="#131722" font-size="15.6" textLength="120.3" lengthAdjust="spacingAndGlyphs" text-anchor="start">MA (200, close, 0)</text>
<text x="141.2" y="88.3" fill="#2a1ff0" font-size="15.6" textLength="36.2" lengthAdjust="spacingAndGlyphs" text-anchor="start">59.24</text>
<text x="11.6" y="398.8" fill="#131722" font-size="15.6" textLength="49.7" lengthAdjust="spacingAndGlyphs" text-anchor="start">RSI (14)</text>
<text x="71.7" y="398.8" fill="#9b54c2" font-size="15.6" textLength="36.1" lengthAdjust="spacingAndGlyphs" text-anchor="start">43.89</text>
<text x="11" y="585.5" fill="#131722" font-size="15.6" textLength="156.1" lengthAdjust="spacingAndGlyphs" text-anchor="start">MACD (12, 26, close, 9)</text>
<text x="176.6" y="585.5" fill="#22ab94" font-size="15.6" textLength="28.9" lengthAdjust="spacingAndGlyphs" text-anchor="start">0.28</text>
<text x="215.6" y="585.5" fill="#2196F3" font-size="15.6" textLength="33.6" lengthAdjust="spacingAndGlyphs" text-anchor="start">-2.87</text>
<text x="259.3" y="585.5" fill="#FF6D00" font-size="15.6" textLength="33.6" lengthAdjust="spacingAndGlyphs" text-anchor="start">-3.15</text>
<text x="12.4" y="770" fill="#131722" font-size="15.6" textLength="23.5" lengthAdjust="spacingAndGlyphs" text-anchor="start">Sep</text>
<text x="117.0" y="770" fill="#131722" font-size="15.6" textLength="14.8" lengthAdjust="spacingAndGlyphs" text-anchor="start">16</text>
<text x="212.4" y="770" fill="#131722" font-size="15.6" textLength="22.9" lengthAdjust="spacingAndGlyphs" text-anchor="start">Oct</text>
<text x="317.0" y="770" fill="#131722" font-size="15.6" textLength="14.8" lengthAdjust="spacingAndGlyphs" text-anchor="start">16</text>
<text x="421.2" y="770" fill="#131722" font-size="15.6" textLength="24.4" lengthAdjust="spacingAndGlyphs" text-anchor="start">Nov</text>
<text x="603.6" y="770" fill="#131722" font-size="15.6" textLength="24.1" lengthAdjust="spacingAndGlyphs" text-anchor="start">Dec</text>
<text x="708.6" y="770" fill="#131722" font-size="15.6" textLength="14.1" lengthAdjust="spacingAndGlyphs" text-anchor="start">16</text>
<text x="798.8" y="770" fill="#131722" font-size="15.6" textLength="34.2" lengthAdjust="spacingAndGlyphs" font-weight="bold" text-anchor="start">2026</text>
<text x="908.5" y="770" fill="#131722" font-size="15.6" textLength="14.7" lengthAdjust="spacingAndGlyphs" text-anchor="start">16</text>
<text x="1003.6" y="770" fill="#131722" font-size="15.6" textLength="24.1" lengthAdjust="spacingAndGlyphs" text-anchor="start">Feb</text>
<text x="1185.3" y="770" fill="#131722" font-size="15.6" textLength="24.4" lengthAdjust="spacingAndGlyphs" text-anchor="start">Mar</text>
<text x="1290.7" y="770" fill="#131722" font-size="15.6" textLength="14.7" lengthAdjust="spacingAndGlyphs" text-anchor="start">17</text>
<text x="1386.8" y="770" fill="#131722" font-size="15.6" textLength="22.6" lengthAdjust="spacingAndGlyphs" text-anchor="start">Apr</text>
<text x="1490.7" y="770" fill="#131722" font-size="15.6" textLength="14.7" lengthAdjust="spacingAndGlyphs" text-anchor="start">15</text>
</svg></body></html>
